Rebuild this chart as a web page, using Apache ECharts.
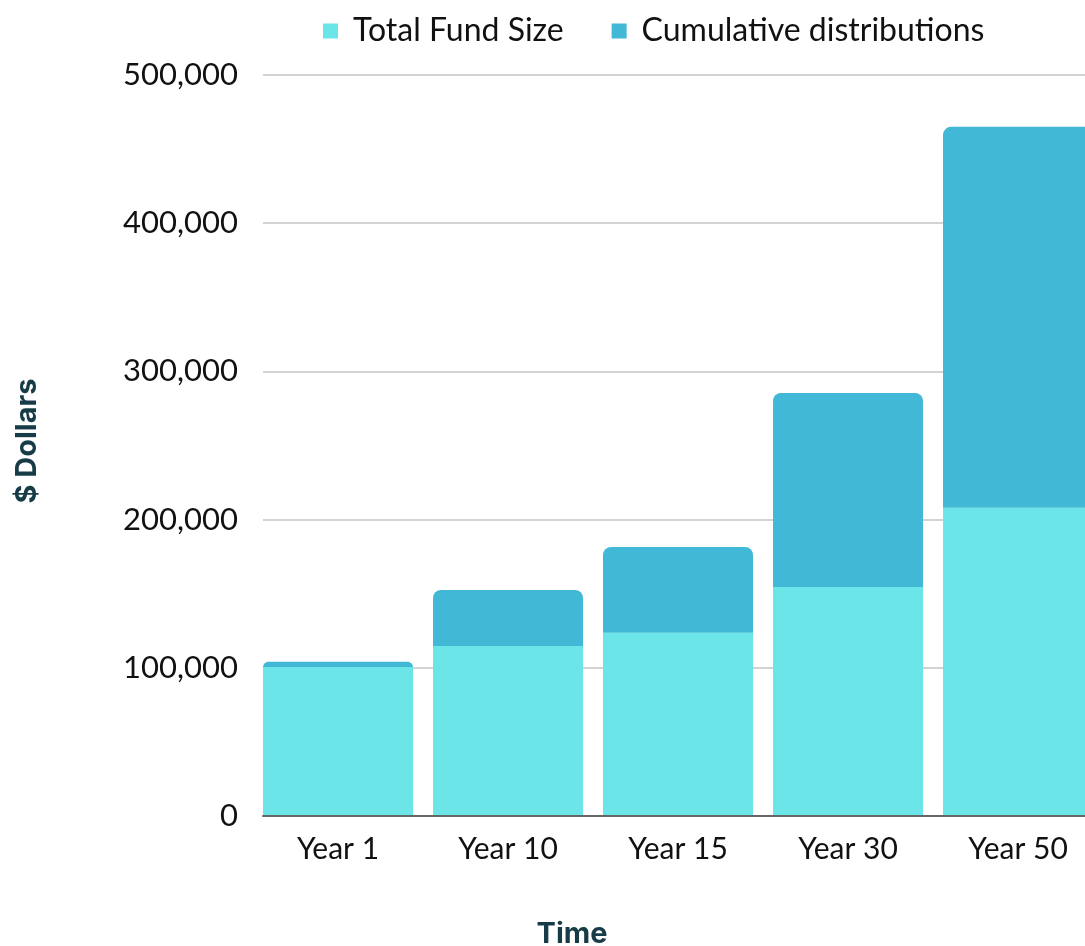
<!DOCTYPE html>
<html>
<head>
<meta charset="utf-8">
<script src="https://cdn.jsdelivr.net/npm/echarts@6/dist/echarts.min.js"></script>
<style>html,body{margin:0;padding:0;background:#fff}#c{width:1085px;height:946px}</style>
</head>
<body>
<div id="c"></div>
<script>
const categories = ['Year 1', 'Year 10', 'Year 15', 'Year 30', 'Year 50'];
const totalFundSize = [100500, 114700, 123700, 154500, 208000];
const cumulativeDistributions = [3500, 37800, 57800, 131000, 257000];
const yTicks = { min: 0, max: 500000, interval: 100000 };

const chart = echarts.init(document.getElementById('c'));
const FONT = 'Lato';
chart.setOption({
  animation: false,
  legend: {
    left: 318, top: 10,
    itemWidth: 15, itemHeight: 15, itemGap: 48,
    icon: 'rect',
    textStyle: { fontFamily: FONT, fontSize: 32, color: '#111', padding: [0, 0, 0, 10] },
    data: ['Total Fund Size', 'Cumulative distributions']
  },
  grid: [
    { left: 263, right: 0, top: 75, bottom: 130, outerBoundsMode: 'none' },
    { left: 253, width: 850, top: 75, bottom: 130, outerBoundsMode: 'none' }
  ],
  xAxis: [
    { gridIndex: 0, type: 'category', data: categories,
      axisLine: { show: true, lineStyle: { color: '#666', width: 2 } },
      axisTick: { show: false }, axisLabel: { show: false }, z: 10 },
    { gridIndex: 1, type: 'category', data: categories,
      axisLine: { show: false }, axisTick: { show: false },
      axisLabel: { fontFamily: FONT, fontSize: 30, color: '#111', margin: 18 } }
  ],
  yAxis: [
    { gridIndex: 0, type: 'value', min: yTicks.min, max: yTicks.max, interval: yTicks.interval,
      axisLine: { show: false }, axisTick: { show: false },
      axisLabel: { fontFamily: FONT, fontSize: 31, color: '#111', margin: 25,
        formatter: v => v.toLocaleString('en-US') },
      splitLine: { lineStyle: { color: '#c4c4c4', width: 1.5 } } },
    { gridIndex: 1, type: 'value', min: yTicks.min, max: yTicks.max, interval: yTicks.interval,
      show: false, splitLine: { show: false } }
  ],
  graphic: [
    { type: 'text', x: 27, y: 441, rotation: Math.PI / 2,
      style: { text: '$ Dollars', font: 'bold 29px Inter', fill: '#173c47', textAlign: 'center', textVerticalAlign: 'middle' } },
    { type: 'text', x: 572, y: 934,
      style: { text: 'Time', font: 'bold 29px Inter', fill: '#173c47', textAlign: 'center', textVerticalAlign: 'middle' } }
  ],
  series: [
    { name: 'Total Fund Size', type: 'bar', stack: 'a', xAxisIndex: 1, yAxisIndex: 1,
      barWidth: 150, data: totalFundSize,
      itemStyle: { color: '#6ce5e8' } },
    { name: 'Cumulative distributions', type: 'bar', stack: 'a', xAxisIndex: 1, yAxisIndex: 1,
      barWidth: 150, data: cumulativeDistributions,
      itemStyle: { color: '#41b8d5', borderRadius: [8, 8, 0, 0] } }
  ]
});
</script>
</body>
</html>
